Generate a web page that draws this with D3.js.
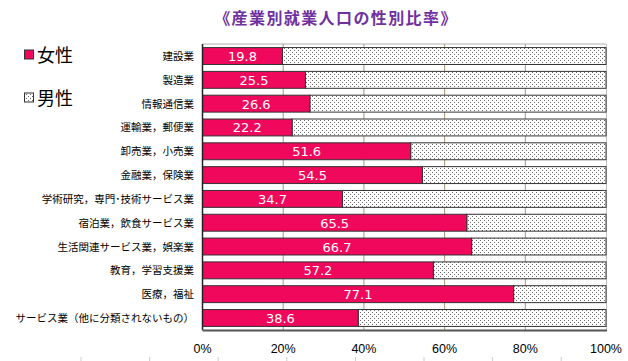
<!DOCTYPE html>
<html><head><meta charset="utf-8">
<script src="https://cdn.jsdelivr.net/npm/d3@7"></script>
<style>body{margin:0;background:#fff}svg{display:block}</style>
</head><body><svg id="c" width="628" height="361"></svg>
<script>
const title = "《産業別就業人口の性別比率》";
const categories = ["建設業","製造業","情報通信業","運輸業，郵便業","卸売業，小売業","金融業，保険業","学術研究，専門･技術サービス業","宿泊業，飲食サービス業","生活関連サービス業，娯楽業","教育，学習支援業","医療，福祉","サービス業（他に分類されないもの）"];
const female = [19.8,25.5,26.6,22.2,51.6,54.5,34.7,65.5,66.7,57.2,77.1,38.6];
const male = [80.2,74.5,73.4,77.8,48.4,45.5,65.3,34.5,33.3,42.8,22.9,61.4];
const ticks = [0,20,40,60,80,100];
const legendLabels = ["女性","男性"];

const svg = d3.select("#c");
const font = "'Noto Sans CJK JP','Noto Sans',sans-serif";
const pink = "#F0085C";
const defs = svg.append("defs");
const pat = defs.append("pattern").attr("id","dots").attr("patternUnits","userSpaceOnUse")
  .attr("width",4).attr("height",4);
pat.append("rect").attr("width",4).attr("height",4).attr("fill","#fff");
pat.append("rect").attr("x",0).attr("y",0).attr("width",1).attr("height",1).attr("fill","#6a6a6a");
pat.append("rect").attr("x",2).attr("y",2).attr("width",1).attr("height",1).attr("fill","#6a6a6a");

const L=202.5, R=606, T=44, B=330;
const x = d3.scaleLinear().domain([0,100]).range([L,R]);
const y = d3.scaleBand().domain(categories).range([T,B]).paddingInner(0.29).paddingOuter(0.15);

// title
svg.append("text").attr("x",336).attr("y",24).attr("text-anchor","middle")
  .attr("font-family",font).attr("font-size",16).attr("letter-spacing",1.4).attr("font-weight","bold").attr("fill","#7030A0").text(title);

// frame
svg.append("line").attr("x1",L).attr("x2",R).attr("y1",T).attr("y2",T).attr("stroke","#b0b0b0");
svg.append("line").attr("x1",R+0.5).attr("x2",R+0.5).attr("y1",T).attr("y2",B).attr("stroke","#c0c0c0");
// gridlines
svg.append("g").selectAll("line").data(ticks.slice(1,-1)).join("line")
  .attr("x1",d=>x(d)).attr("x2",d=>x(d)).attr("y1",T).attr("y2",B)
  .attr("stroke","#a89878").attr("stroke-width",1);

// bars
const g = svg.append("g");
categories.forEach((c,i)=>{
  g.append("rect").attr("x",x(female[i])).attr("y",y(c)).attr("width",x(female[i]+male[i])-x(female[i]))
    .attr("height",y.bandwidth()).attr("fill","url(#dots)").attr("stroke","#333").attr("stroke-width",1);
  g.append("rect").attr("x",x(0)).attr("y",y(c)).attr("width",x(female[i])-x(0))
    .attr("height",y.bandwidth()).attr("fill",pink).attr("stroke","#333").attr("stroke-width",1);
  g.append("text").attr("x",(x(0)+x(female[i]))/2).attr("y",y(c)+y.bandwidth()/2+5)
    .attr("text-anchor","middle").attr("font-family","'DejaVu Sans',sans-serif").attr("font-size",13)
    .attr("fill","#fff").text(female[i].toFixed(1));
  svg.append("text").attr("x",194).attr("y",y(c)+y.bandwidth()/2+4)
    .attr("text-anchor","end").attr("font-family",font).attr("font-size",10.5).attr("fill","#000").text(c);
});

// axes lines
svg.append("line").attr("x1",L).attr("x2",L).attr("y1",T).attr("y2",B).attr("stroke","#222").attr("stroke-width",1.5);
svg.append("line").attr("x1",L).attr("x2",R+1).attr("y1",B+0.5).attr("y2",B+0.5).attr("stroke","#555").attr("stroke-width",2);

// x tick labels
svg.append("g").selectAll("text").data(ticks).join("text")
  .attr("x",d=>x(d)).attr("y",353).attr("text-anchor","middle")
  .attr("font-family","'Liberation Sans',Arial,sans-serif").attr("font-size",12.5).attr("fill","#000")
  .text(d=>d+"%");

// faint marks at bottom
svg.append("g").selectAll("line").data(d3.range(8)).join("line")
  .attr("x1",d=>81+d*68.6).attr("x2",d=>81+d*68.6).attr("y1",357).attr("y2",361)
  .attr("stroke","#ccc");

// legend
const leg = svg.append("g");
legendLabels.forEach((t,i)=>{
  const yy = 55 + i*43;
  leg.append("rect").attr("x",24.5).attr("y",yy-5).attr("width",9).attr("height",9)
    .attr("fill", i===0?pink:"url(#dots)").attr("stroke","#333");
  leg.append("text").attr("x",37).attr("y",yy+7).attr("font-family",font).attr("font-size",18)
    .attr("fill","#000").text(t);
});
</script></body></html>
